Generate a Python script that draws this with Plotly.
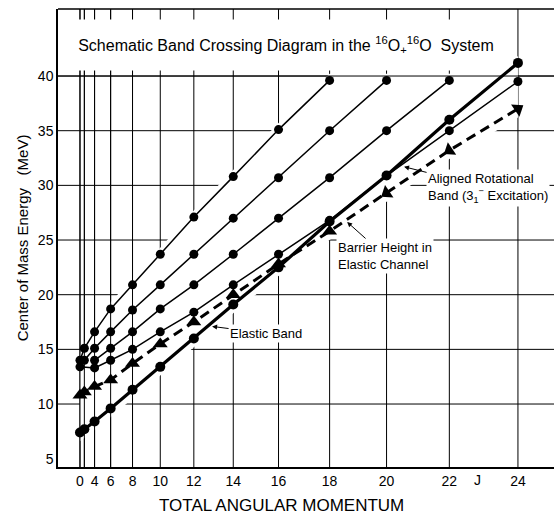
import plotly.graph_objects as go

# ---------------- data ----------------
J_EVEN = [0, 2, 4, 6, 8, 10, 12, 14, 16, 18, 20, 22, 24]

# Elastic band (thick solid line, circles)
J_ELASTIC = [0, 2, 4, 6, 8, 10, 12, 14, 16, 18, 20, 22, 24]
E_ELASTIC = [7.4, 7.7, 8.4, 9.6, 11.3, 13.4, 16.0, 19.1, 22.5, 26.7, 30.9, 36.0, 41.2]

# Barrier height in elastic channel (thick dashed line, triangles)
J_BARRIER = [0, 2, 4, 6, 8, 10, 12, 14, 16, 18, 20, 22, 24]
E_BARRIER = [10.8, 11.1, 11.6, 12.2, 13.7, 15.5, 17.5, 20.0, 22.8, 25.8, 29.3, 33.2, 37.0]

# Excited bands (thin lines, circles)
J_BAND_A = [0, 2, 4, 6, 8, 10, 12, 14, 16, 18]
E_BAND_A = [14.0, 15.1, 16.6, 18.7, 20.9, 23.7, 27.1, 30.8, 35.1, 39.6]

J_BAND_B = [2, 4, 6, 8, 10, 12, 14, 16, 18, 20]
E_BAND_B = [14.0, 15.1, 16.6, 18.6, 20.9, 23.7, 27.0, 30.7, 35.0, 39.6]

J_BAND_C = [4, 6, 8, 10, 12, 14, 16, 18, 20, 22]
E_BAND_C = [14.0, 15.1, 16.6, 18.7, 20.9, 23.7, 27.0, 30.7, 35.0, 39.6]

# Aligned rotational band (3- excitation)
J_ALIGNED = [0, 4, 6, 8, 10, 12, 14, 16, 18, 20, 22, 24]
E_ALIGNED = [13.4, 13.3, 14.0, 15.0, 16.6, 18.4, 20.9, 23.7, 26.8, 30.9, 35.0, 39.5]

# axis ticks
J_TICK_LABELS = [0, 4, 6, 8, 10, 12, 14, 16, 18, 20, 22, 24]
E_TICKS = [5, 10, 15, 20, 25, 30, 35, 40]
E_GRID = [10, 15, 20, 25, 30, 35, 40]


def jj(js):
    """Position on the J(J+1) axis."""
    return [j * (j + 1) for j in js]


X_RANGE = [-30.1, 649.4]
Y_RANGE = [4.24, 46.13]
FONT = "Liberation Sans"
INK = "black"

fig = go.Figure()

thin = dict(mode="lines+markers", line=dict(color=INK, width=1.5),
            marker=dict(symbol="circle", size=9, color=INK), showlegend=False)
for name, js, es in [("Band A", J_BAND_A, E_BAND_A), ("Band B", J_BAND_B, E_BAND_B),
                     ("Band C", J_BAND_C, E_BAND_C),
                     ("Aligned Rotational Band", J_ALIGNED, E_ALIGNED)]:
    fig.add_trace(go.Scatter(x=jj(js), y=es, name=name, **thin))

tri_angles = [0] * 10 + [-124, -124, 56]
fig.add_trace(go.Scatter(
    x=jj(J_BARRIER), y=E_BARRIER, name="Barrier Height", mode="lines+markers",
    line=dict(color=INK, width=3, dash="10px,6px"),
    marker=dict(symbol="triangle-up", size=13, color=INK, angle=tri_angles),
    showlegend=False))

fig.add_trace(go.Scatter(
    x=jj(J_ELASTIC), y=E_ELASTIC, name="Elastic Band", mode="lines+markers",
    line=dict(color=INK, width=3.2),
    marker=dict(symbol="circle", size=10, color=INK), showlegend=False))

# ---------------- graph-paper grid ----------------
shapes = []
grid = dict(color=INK, width=1)
for j in J_EVEN:
    x = j * (j + 1)
    shapes.append(dict(type="line", layer="below", xref="x", yref="y",
                       x0=x, x1=x, y0=Y_RANGE[0], y1=Y_RANGE[1], line=grid))
for e in E_GRID:
    shapes.append(dict(type="line", layer="below", xref="x", yref="y",
                       x0=X_RANGE[0], x1=X_RANGE[1], y0=e, y1=e, line=grid))

# blank out grid inside the band region (the paper grid is interrupted there)
upper, lower = [], []
series = [(J_BAND_A, E_BAND_A), (J_BAND_B, E_BAND_B), (J_BAND_C, E_BAND_C),
          (J_ALIGNED, E_ALIGNED), (J_ELASTIC, E_ELASTIC)]
for j in J_EVEN:
    tops = [es[js.index(j)] for js, es in series if j in js]
    bots = [es[js.index(j)] for js, es in series + [(J_BARRIER, E_BARRIER)] if j in js]
    upper.append((j * (j + 1), max(tops) + 0.6))
    lower.append((j * (j + 1), min(bots) - 0.8))
pts = upper + lower[::-1]
path = "M " + " L ".join(f"{x},{y}" for x, y in pts) + " Z"
shapes.append(dict(type="path", layer="below", xref="x", yref="y", path=path,
                   fillcolor="white", line=dict(width=0)))
# grid lines that do run through the low-J cluster and the 40 MeV line
for j in J_EVEN[:5]:
    x = j * (j + 1)
    shapes.append(dict(type="line", layer="below", xref="x", yref="y",
                       x0=x, x1=x, y0=Y_RANGE[0], y1=Y_RANGE[1], line=grid))
shapes.append(dict(type="line", layer="below", xref="x", yref="y",
                   x0=X_RANGE[0], x1=X_RANGE[1], y0=40, y1=40, line=grid))
# top frame line
shapes.append(dict(type="line", xref="paper", yref="paper", x0=0, x1=1, y0=1, y1=1,
                   line=dict(color=INK, width=1.5)))

annotations = [
    dict(x=282, y=42.8, xref="x", yref="y", showarrow=False,
         text="Schematic Band Crossing Diagram in the <sup>16</sup>O<sub>+</sub><sup>16</sup>O  System",
         font=dict(family=FONT, size=16, color=INK), bgcolor="white",
         width=428, height=48),
    dict(x=181, y=17.1, xref="x", yref="y", ax=54, ay=7, text="Elastic Band",
         showarrow=True, arrowhead=2, arrowsize=1, arrowwidth=1, arrowcolor=INK,
         font=dict(family=FONT, size=13, color=INK), bgcolor="white"),
    dict(x=366, y=26.65, xref="x", yref="y", ax=38, ay=34,
         text="Barrier Height in<br>Elastic Channel", align="left",
         showarrow=True, arrowhead=2, arrowsize=1, arrowwidth=1, arrowcolor=INK,
         font=dict(family=FONT, size=13, color=INK), bgcolor="white"),
    dict(x=444, y=31.7, xref="x", yref="y", ax=84, ay=21,
         text="Aligned Rotational<br>Band (3<sub>1</sub><sup>−</sup> Excitation)", align="left",
         showarrow=True, arrowhead=2, arrowsize=1, arrowwidth=1, arrowcolor=INK,
         font=dict(family=FONT, size=13, color=INK), bgcolor="white"),
    dict(x=545, y=0, xref="x", yref="paper", yanchor="top", yshift=-3, showarrow=False,
         text="J", font=dict(family=FONT, size=14, color=INK)),
    # x-axis title (centred under the labelled part of the axis, as in the original)
    dict(x=0.45, y=0, xref="paper", yref="paper", yanchor="middle", yshift=-38,
         showarrow=False, text="TOTAL ANGULAR MOMENTUM",
         font=dict(family=FONT, size=17, color=INK)),
]

fig.update_layout(
    width=554, height=516,
    margin=dict(l=58, r=0, t=9, b=49),
    paper_bgcolor="white", plot_bgcolor="white",
    font=dict(family=FONT, color=INK),
    shapes=shapes, annotations=annotations,
    xaxis=dict(range=X_RANGE, tickvals=jj(J_TICK_LABELS),
               ticktext=[str(j) for j in J_TICK_LABELS],
               showgrid=False, zeroline=False, showline=True, linecolor=INK, linewidth=1.5,
               ticks="", tickfont=dict(family=FONT, size=14, color=INK)),
    yaxis=dict(range=Y_RANGE, tickvals=E_TICKS, showgrid=False, zeroline=False,
               showline=True, linecolor=INK, linewidth=1.5, ticks="",
               tickfont=dict(family=FONT, size=14, color=INK),
               title=dict(text="Center of Mass Energy   (MeV)", standoff=6,
                          font=dict(family=FONT, size=15, color=INK))),
)

fig.write_html("out.html")
